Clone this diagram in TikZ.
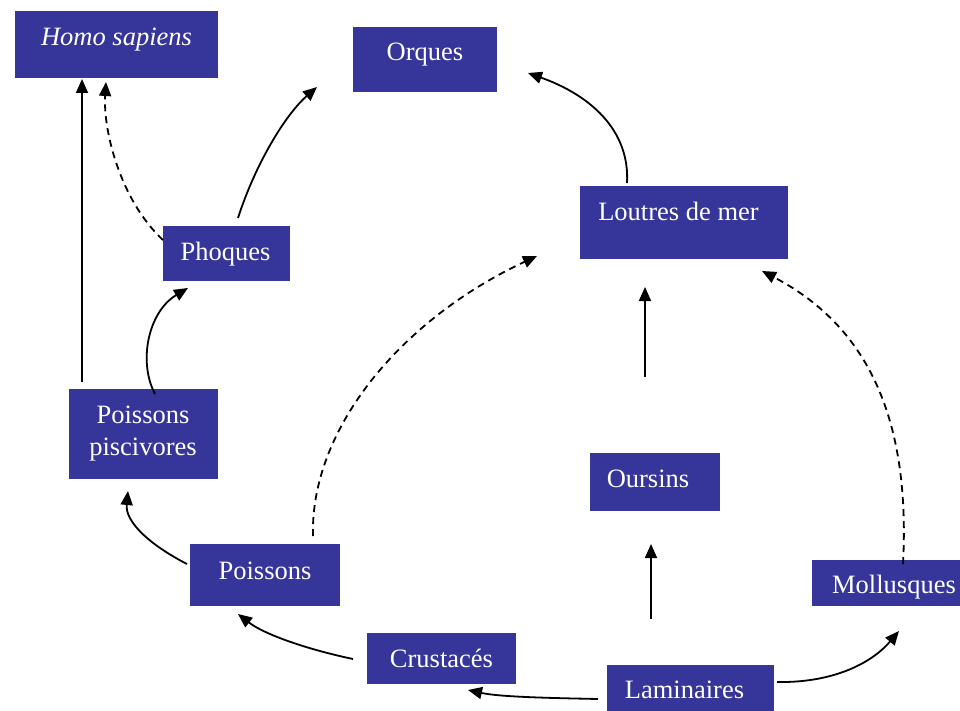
\documentclass[tikz,border=0pt]{standalone}
\usepackage{fontspec}
\setmainfont{Liberation Serif}
\usetikzlibrary{arrows.meta}
\definecolor{boxblue}{RGB}{54,53,153}
\begin{document}
\begin{tikzpicture}[x=1pt,y=-1pt,
  box/.style={fill=boxblue, draw=none, inner sep=0pt, anchor=north west},
  lbl/.style={text=white, anchor=base, inner sep=0pt,
    font=\fontsize{26.5}{30}\selectfont},
  link/.style={line width=1.8pt, -{Triangle[length=14pt,width=12pt]}},
  weak/.style={link, dash pattern=on 7pt off 5pt}]
\useasboundingbox (0,0) rectangle (960,711);

% boxes
\node[box, minimum width=203pt, minimum height=67pt] (homo)       at (15,11)  {};
\node[box, minimum width=144pt, minimum height=65pt] (orques)     at (353,27) {};
\node[box, minimum width=208pt, minimum height=73pt] (loutres)    at (580,186){};
\node[box, minimum width=127pt, minimum height=55pt] (phoques)    at (163,226){};
\node[box, minimum width=149pt, minimum height=90pt] (piscivores) at (69,389) {};
\node[box, minimum width=130pt, minimum height=58pt] (oursins)    at (590,453){};
\node[box, minimum width=150pt, minimum height=62pt] (poissons)   at (190,544){};
\node[box, minimum width=148pt, minimum height=46pt] (mollusques) at (812,560){};
\node[box, minimum width=149pt, minimum height=51pt] (crustaces)  at (367,633){};
\node[box, minimum width=167pt, minimum height=46pt] (laminaires) at (607,665){};

% labels
\node[lbl] (homo-t)       at (116.5,46) {\itshape Homo sapiens};
\node[lbl] (orques-t)     at (425,61)   {Orques};
\node[lbl] (loutres-t)    at (678.5,221){Loutres de mer};
\node[lbl] (phoques-t)    at (225.5,260){Phoques};
\node[lbl] (piscivores-a) at (143,423)  {Poissons};
\node[lbl] (piscivores-b) at (143,455)  {piscivores};
\node[lbl] (oursins-t)    at (648,487)  {Oursins};
\node[lbl] (poissons-t)   at (265,579)  {Poissons};
\node[lbl] (mollusques-t) at (894,593)  {Mollusques};
\node[lbl] (crustaces-t)  at (441.5,667){Crustacés};
\node[lbl] (laminaires-t) at (684.5,698){Laminaires};

% connector end points, set a little off the boxes
\coordinate (pisc-up)    at (82,382);
\coordinate (homo-in1)   at (82,79);
\coordinate (phoq-left)  at (163,240);
\coordinate (homo-in2)   at (106,82);
\coordinate (phoq-top)   at (238,218);
\coordinate (orq-in1)    at (317,87);
\coordinate (pisc-top)   at (155,394);
\coordinate (phoq-in)    at (188,288);
\coordinate (lout-top)   at (627,183);
\coordinate (orq-in2)    at (528,73);
\coordinate (ours-up)    at (645,377);
\coordinate (lout-in1)   at (645,287);
\coordinate (pois-top)   at (313,536);
\coordinate (lout-in2)   at (537,256);
\coordinate (moll-top)   at (903,564);
\coordinate (lout-in3)   at (762,271);
\coordinate (pois-left)  at (187,564);
\coordinate (pisc-in)    at (128,491);
\coordinate (crus-left)  at (353,659);
\coordinate (pois-in)    at (238,614);
\coordinate (lam-left)   at (598,699);
\coordinate (crus-in)    at (468,690);
\coordinate (lam-up)     at (651,619);
\coordinate (ours-in)    at (651,544);
\coordinate (lam-right)  at (777,682);
\coordinate (moll-in)    at (899,631);

% feeding links
\draw[link] (pisc-up) -- (homo-in1);
\draw[weak] (phoq-left) .. controls (120,200) and (103,130) .. (homo-in2);
\draw[link] (phoq-top) .. controls (255,165) and (285,115) .. (orq-in1);
\draw[link] (pisc-top) .. controls (138,362) and (148,312) .. (phoq-in);
\draw[link] (lout-top) .. controls (630,130) and (590,95) .. (orq-in2);
\draw[link] (ours-up) -- (lout-in1);
\draw[weak] (pois-top) .. controls (310,430) and (400,320) .. (lout-in2);
\draw[weak] (moll-top) .. controls (910,430) and (875,330) .. (lout-in3);
\draw[link] (pois-left) .. controls (150,545) and (125,522) .. (pisc-in);
\draw[link] (crus-left) .. controls (310,650) and (265,635) .. (pois-in);
\draw[link] (lam-left) .. controls (550,698) and (500,697) .. (crus-in);
\draw[link] (lam-up) -- (ours-in);
\draw[link] (lam-right) .. controls (830,683) and (870,665) .. (moll-in);
\end{tikzpicture}
\end{document}
